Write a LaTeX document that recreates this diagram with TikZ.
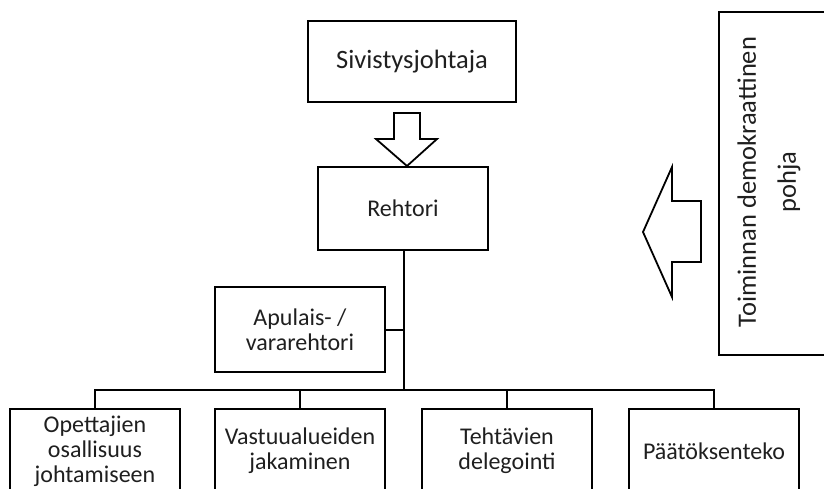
\documentclass[tikz,border=0pt]{standalone}
\usepackage{fontspec}
\setmainfont{Carlito}
\begin{document}
\begin{tikzpicture}[x=1pt,y=-1pt,
  box/.style={draw, line width=2pt, rectangle, inner sep=0pt, align=center, text=black!88},
  unit/.style={box, minimum width=170pt, minimum height=84pt, anchor=north,
    font=\fontsize{24}{25}\selectfont},
  link/.style={line width=2pt},
  trunk/.style={line width=2.8pt},
  blockarrow/.style={draw, line width=1.8pt, fill=white, line join=miter}]
\useasboundingbox (0,0) rectangle (824,488);
\clip (0,0) rectangle (824,488);

% top level
\node[box, minimum width=208pt, minimum height=81pt, font=\fontsize{26.5}{28}\selectfont]
  (siv) at (412,61.5) {Sivistysjohtaja};
\node[box, minimum width=170pt, minimum height=83pt, font=\fontsize{24}{25}\selectfont]
  (reh) at (403,208.5) {Rehtori};
\node[box, minimum width=170pt, minimum height=85pt, font=\fontsize{24}{25}\selectfont]
  (apu) at (300,329.5) {Apulais- /\\vararehtori};

% bottom row, running past the lower edge
\node[unit] (b1) at (95,408)  {Opettajien\\osallisuus\\johtamiseen};
\node[unit] (b2) at (300,408) {Vastuualueiden\\jakaminen};
\node[unit] (b3) at (507,408) {Tehtävien\\delegointi};
\node[unit] (b4) at (714,408) {Päätöksenteko};

% side frame with vertical caption
\node[box, minimum width=111pt, minimum height=343pt] (side) at (774.5,183.5) {};
\node[rotate=90, align=center, text=black!88, font=\fontsize{26.5}{40}\selectfont]
  (sidetext) at (769,182) {Toiminnan demokraattinen\\pohja};

% hollow block arrows
\draw[blockarrow] (394,113) -- (420,113) -- (420,139) -- (437,139) -- (407,166)
  -- (376,139) -- (394,139) -- cycle;
\draw[blockarrow] (701,201) -- (672,201) -- (672,167) -- (643,232) -- (672,297)
  -- (672,262) -- (701,262) -- cycle;

% organisation lines
\coordinate (bus) at (404,390);
\draw[trunk] (reh.south -| bus) -- (bus);
\draw[link] (apu.east) -- (apu.east -| bus);
\draw[link] (b1.north) -- (b1.north |- bus) -- (b4.north |- bus) -- (b4.north);
\draw[link] (b2.north) -- (b2.north |- bus);
\draw[link] (b3.north) -- (b3.north |- bus);
\end{tikzpicture}
\end{document}
